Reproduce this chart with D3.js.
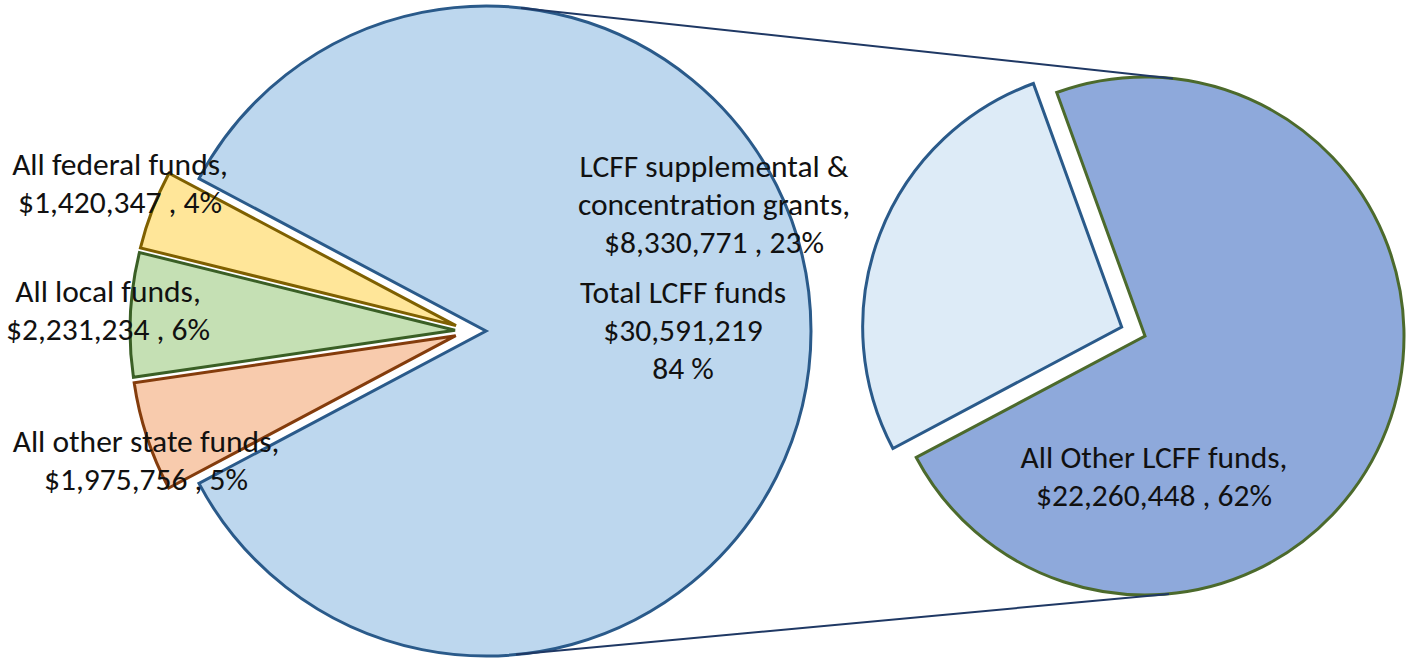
<!DOCTYPE html>
<html>
<head>
<meta charset="utf-8">
<script src="https://cdn.jsdelivr.net/npm/d3@7"></script>
<style>
  body { margin: 0; background: #fff; }
  svg { display: block; }
  text { font-family: Calibri, Carlito, Lato, sans-serif; fill: #111; }
</style>
</head>
<body>
<div id="chart"></div>
<script>
// Main pie: all funds (order goes clockwise from lower-left)
const mainNames = ["All other state funds", "All local funds", "All federal funds", "Total LCFF funds"];
const mainValues = [1975756, 2231234, 1420347, 30591219];
const mainPct = ["5%", "6%", "4%", "84 %"];

// Second pie: breakdown of the LCFF slice
const subNames = ["LCFF supplemental & concentration grants", "All Other LCFF funds"];
const subValues = [8330771, 22260448];
const subPct = ["23%", "62%"];

// Label lines
const mainLabels = [
    ["All other state funds,", "$1,975,756 , 5%"],
    ["All local funds,", "$2,231,234 , 6%"],
    ["All federal funds,", "$1,420,347 , 4%"],
    ["Total LCFF funds", "$30,591,219", "84 %"]
];
const subLabels = [
    ["LCFF supplemental &", "concentration grants,", "$8,330,771 , 23%"],
    ["All Other LCFF funds,", "$22,260,448 , 62%"]
];

// Layout
const width = 1410, height = 659;
const main = {cx: 470, cy: 331, r: 325};
const sub = {cx: 1145, cy: 336, r: 259};
const mainExplode = [15, 15, 15, 16];
const subExplode = [25, 0];
const mainFill = ["#F8CBAD", "#C5E0B4", "#FFE699", "#BDD7EE"];
const mainStroke = ["#843C0C", "#3A5F25", "#7F6000", "#2A5A8A"];
const subFill = ["#DDEBF7", "#8EA9DB"];
const subStroke = ["#2A5A8A", "#4C6A2C"];
// label anchor: center x, first baseline y
const mainLabelPos = [[146, 452], [108, 302], [120, 175], [683, 303]];
const subLabelPos = [[714, 177], [1154, 468]];
const lineH = 38;

const svg = d3.select("#chart")
    .append("svg")
    .attr("width", width)
    .attr("height", height);

// the big slice is centred on the right side
const lcffFrac = mainValues[3] / d3.sum(mainValues);
const start = Math.PI / 2 + lcffFrac * Math.PI;

const mainArcs = d3.pie().sort(null)
    .startAngle(start).endAngle(start + 2 * Math.PI)(mainValues);
const subArcs = d3.pie().sort(null)
    .startAngle(start).endAngle(start + 2 * Math.PI)(subValues);

function offset(a, e) {
    const mid = (a.startAngle + a.endAngle) / 2;
    return [Math.sin(mid) * e, -Math.cos(mid) * e];
}

function drawPie(arcs, c, explode, fill, stroke) {
    const arc = d3.arc().innerRadius(0).outerRadius(c.r);
    svg.append("g")
        .selectAll("path")
        .data(arcs)
        .enter().append("path")
        .attr("transform", (d, i) => {
            const o = offset(d, explode[i]);
            return `translate(${c.cx + o[0]},${c.cy + o[1]})`;
        })
        .attr("d", arc)
        .attr("fill", (d, i) => fill[i])
        .attr("stroke", (d, i) => stroke[i])
        .attr("stroke-width", 3)
        .attr("stroke-linejoin", "miter");
}

drawPie(mainArcs, main, mainExplode, mainFill, mainStroke);
drawPie(subArcs, sub, subExplode, subFill, subStroke);

// series lines: outer tangents between the LCFF slice and the second pie
const o3 = offset(mainArcs[3], mainExplode[3]);
const c1 = [main.cx + o3[0], main.cy + o3[1]];
const c2 = [sub.cx, sub.cy];
const dist = Math.hypot(c2[0] - c1[0], c2[1] - c1[1]);
const phi = Math.atan2(c2[1] - c1[1], c2[0] - c1[0]);
const alpha = Math.acos((main.r - sub.r) / dist);
[-1, 1].forEach(s => {
    const t = phi + s * alpha;
    svg.append("line")
        .attr("x1", c1[0] + main.r * Math.cos(t))
        .attr("y1", c1[1] + main.r * Math.sin(t))
        .attr("x2", c2[0] + sub.r * Math.cos(t))
        .attr("y2", c2[1] + sub.r * Math.sin(t))
        .attr("stroke", "#1F3864")
        .attr("stroke-width", 2);
});

// data labels
function drawLabels(labels, pos) {
    labels.forEach((lines, i) => {
        const t = svg.append("text")
            .attr("text-anchor", "middle")
            .attr("font-size", 31.5);
        lines.forEach((l, j) => {
            t.append("tspan")
                .attr("x", pos[i][0])
                .attr("y", pos[i][1] + j * lineH)
                .text(l);
        });
    });
}
drawLabels(mainLabels, mainLabelPos);
drawLabels(subLabels, subLabelPos);
</script>
</body>
</html>
